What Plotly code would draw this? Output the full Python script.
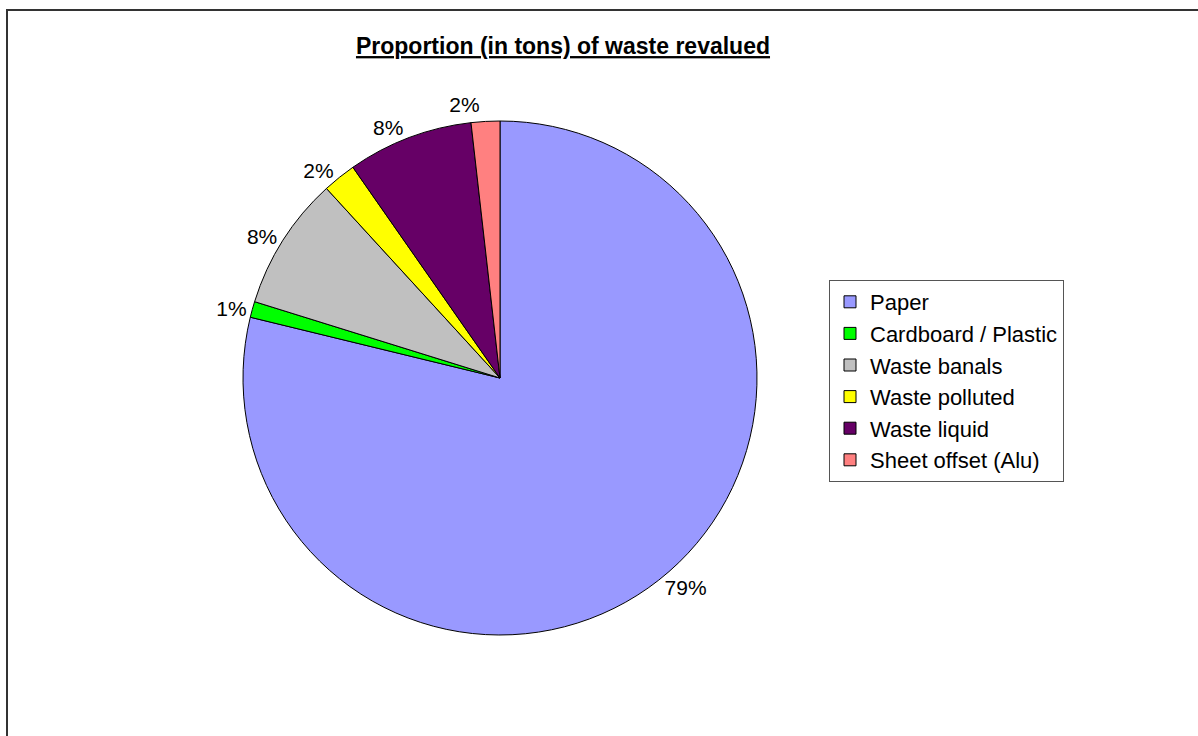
import plotly.graph_objects as go

categories = ["Paper", "Cardboard / Plastic", "Waste banals", "Waste polluted",
              "Waste liquid", "Sheet offset (Alu)"]
values = [78.8, 1.0, 8.4, 2.1, 7.9, 1.8]
colors = ["#9999FF", "#00FF00", "#C0C0C0", "#FFFF00", "#660066", "#FF8080"]

W, H = 1198, 736
cx, cy, r = 500, 378, 257

fig = go.Figure(go.Pie(
    labels=categories,
    values=values,
    sort=False,
    direction="clockwise",
    rotation=0,
    marker=dict(colors=colors, line=dict(color="black", width=1)),
    texttemplate="%{percent:.0%}",
    textposition="outside",
    textfont=dict(family="Arial, Liberation Sans", size=21, color="black"),
    domain=dict(x=[(cx - r) / W, (cx + r) / W], y=[1 - (cy + r) / H, 1 - (cy - r) / H]),
    hoverinfo="label+percent",
))

fig.update_layout(
    width=W, height=H,
    margin=dict(l=0, r=0, t=0, b=0),
    paper_bgcolor="white",
    plot_bgcolor="white",
    font=dict(family="Arial, Liberation Sans", color="black"),
    title=dict(
        text="<b><u>Proportion (in tons) of waste revalued</u></b>",
        x=563 / W, xanchor="center",
        y=1 - 46 / H, yanchor="middle",
        font=dict(size=23, color="black", family="Arial, Liberation Sans"),
    ),
    legend=dict(
        x=829 / W, xanchor="left",
        y=1 - 280 / H, yanchor="top",
        bgcolor="white",
        bordercolor="#555555",
        borderwidth=1,
        font=dict(size=22, color="black", family="Arial, Liberation Sans"),
    ),
    shapes=[dict(
        type="rect", xref="paper", yref="paper",
        x0=7 / W, x1=1.02, y0=1 - 10 / H, y1=-0.02,
        line=dict(color="#333333", width=2),
    )],
)

post = """
function hideLinks(){document.querySelectorAll('path.textline').forEach(function(e){e.style.display='none';});}
hideLinks();
var gd=document.getElementById('{plot_id}');
if(gd && gd.on){gd.on('plotly_afterplot', hideLinks);}
"""

fig.write_html("out.html", post_script=post)
